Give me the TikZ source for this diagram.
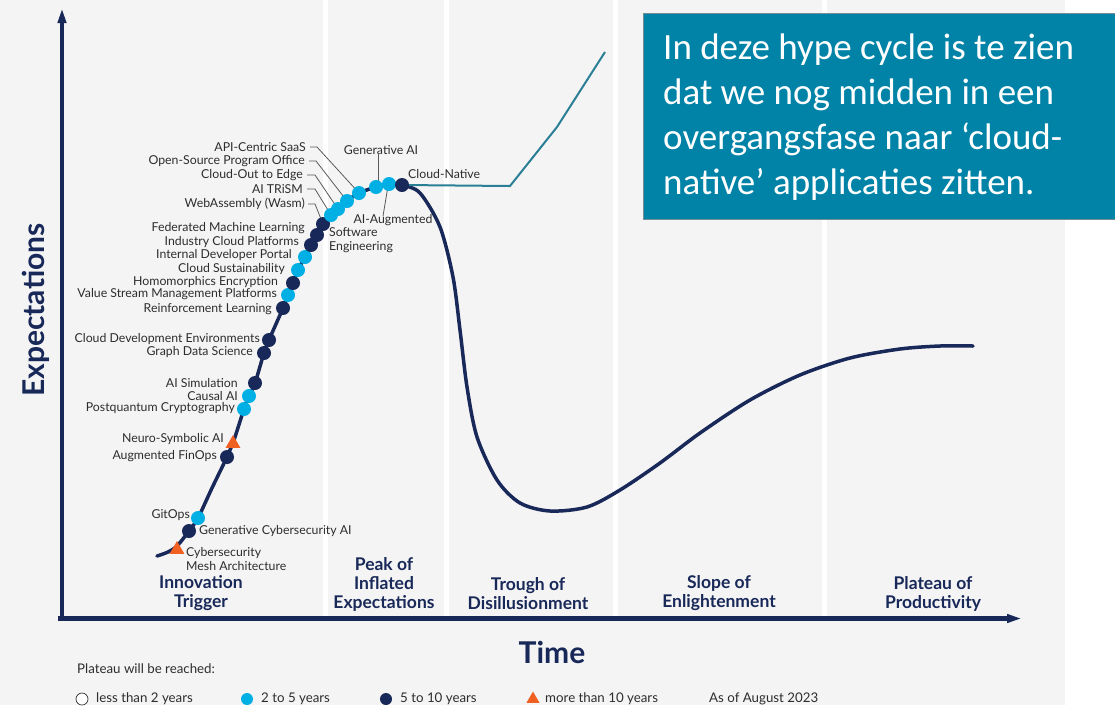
\documentclass[tikz,border=0pt]{standalone}
\usepackage{fontspec}
\setmainfont{Lato}
\newfontfamily\notefont{Carlito}
\usetikzlibrary{arrows.meta,shapes.geometric}
\definecolor{navy}{RGB}{24,40,88}
\definecolor{sky}{RGB}{0,176,228}
\definecolor{flame}{RGB}{240,96,32}
\definecolor{panel}{RGB}{244,244,244}
\definecolor{notebox}{RGB}{0,131,166}
\definecolor{noteedge}{RGB}{120,140,150}
\definecolor{nativeline}{RGB}{42,126,150}
\definecolor{labelgray}{RGB}{45,45,45}
\definecolor{leadergray}{RGB}{90,90,90}
\begin{document}
\begin{tikzpicture}[x=1pt,y=-1pt,
  lightdot/.style={circle,fill=sky,minimum size=14pt,inner sep=0pt},
  darkdot/.style={circle,fill=navy,minimum size=14pt,inner sep=0pt},
  tridot/.style={regular polygon,regular polygon sides=3,fill=flame,minimum size=17pt,inner sep=0pt},
  lab/.style={font=\fontsize{12.3}{14}\selectfont,text=labelgray,inner sep=0pt},
  leader/.style={draw=leadergray,line width=0.8pt},
  phase/.style={font=\bfseries\fontsize{17.5}{19}\selectfont,text=navy,align=center,inner sep=0pt},
  axisline/.style={draw=navy,line width=4.5pt},
  legendtxt/.style={font=\fontsize{13.3}{15}\selectfont,text=labelgray,inner sep=0pt,anchor=west}]

\useasboundingbox (0,0) rectangle (1115,705);

% background panels and phase separators
\fill[white] (0,0) rectangle (1115,705);
\fill[panel] (0,0) rectangle (1065,705);
\foreach \sx in {323,444,613,822}
  \fill[white] (\sx,0) rectangle (\sx+5,616);

% axes
\coordinate (yfoot) at (62,621);
\coordinate (ytop) at (62,8);
\coordinate (xfoot) at (58,618.5);
\coordinate (xtip) at (1022,618.5);
\draw[axisline,-{Triangle[length=15pt,width=8pt]}] (yfoot) -- (ytop);
\draw[axisline,-{Triangle[length=15pt,width=8pt]}] (xfoot) -- (xtip);

\node[font=\bfseries\fontsize{30}{34}\selectfont,text=navy,rotate=90] (ylab) at (36,310) {Expectations};
\node[font=\bfseries\fontsize{30}{34}\selectfont,text=navy] (xlab) at (552,652) {Time};

% hype curve
\draw[navy,line width=3.5pt,line cap=round] plot[smooth,tension=0.5] coordinates {
 (157,556) (168,552) (177,546) (189,531) (198,518) (212,488) (227,457) (233,443)
 (244,409) (249,396) (255,383) (264,353) (269,340) (276,324) (283,308) (288,295)
 (293,283) (298,270) (305,257) (311,245) (317,235) (323,224) (331,215) (338,209)
 (347,201) (359,193) (376,187) (389,184) (402,185) (420,193) (440,227) (453,277)
 (460,330) (467,387) (477,437) (497,480) (520,503) (550,511) (587,507) (620,490)
 (660,463) (700,433) (750,400) (800,375) (850,358) (900,349) (940,346) (973,346)};

% cloud-native trend line
\coordinate (bend1) at (510,186);
\coordinate (bend2) at (557,127);
\coordinate (trendend) at (605,52);
\draw[nativeline,line width=2pt] (402,185) -- (bend1) -- (bend2) -- (trendend);

% technology labels
\node[lab,anchor=east] (lsaas) at (306,147) {API-Centric SaaS};
\node[lab,anchor=east] (lospo) at (305,161) {Open-Source Program Office};
\node[lab,anchor=east] (ledge) at (303,175) {Cloud-Out to Edge};
\node[lab,anchor=east] (ltrism) at (303,189) {AI TRiSM};
\node[lab,anchor=east] (lwasm) at (305,204) {WebAssembly (Wasm)};
\node[lab,anchor=east] (lfml) at (305,228) {Federated Machine Learning};
\node[lab,anchor=east] (licp) at (299,242) {Industry Cloud Platforms};
\node[lab,anchor=east] (lidp) at (292,255) {Internal Developer Portal};
\node[lab,anchor=east] (lcs) at (285,269) {Cloud Sustainability};
\node[lab,anchor=east] (lhe) at (278,282) {Homomorphics Encryption};
\node[lab,anchor=east] (lvsm) at (277,294) {Value Stream Management Platforms};
\node[lab,anchor=east] (lrl) at (272,309) {Reinforcement Learning};
\node[lab,anchor=east] (lcde) at (260,339) {Cloud Development Environments};
\node[lab,anchor=east] (lgds) at (253,352) {Graph Data Science};
\node[lab,anchor=east] (laisim) at (238,383) {AI Simulation};
\node[lab,anchor=east] (lcausal) at (238,396) {Causal AI};
\node[lab,anchor=east] (lpqc) at (235,408) {Postquantum Cryptography};
\node[lab,anchor=east] (lnsai) at (224,439) {Neuro-Symbolic AI};
\node[lab,anchor=east] (lfinops) at (217,456) {Augmented FinOps};
\node[lab,anchor=east] (lgitops) at (190,515) {GitOps};
\node[lab,anchor=west] (lgca) at (199,531) {Generative Cybersecurity AI};
\node[lab,anchor=west,align=left] (lcsma) at (186,559) {Cybersecurity\\Mesh Architecture};
\node[lab] (lgenai) at (381,150) {Generative AI};
\node[lab] (laase) at (393,220) {AI-Augmented};
\node[lab,anchor=west,align=left] (lsweng) at (329,240) {Software\\Engineering};
\node[lab,anchor=west] (lcn) at (408,174) {Cloud-Native};

% technology markers on the rising slope
\node[tridot] (csma) at (177,549.5) {};
\node[darkdot] (gca) at (189,531) {};
\node[lightdot] (gitops) at (198,518) {};
\node[darkdot] (finops) at (227,457) {};
\node[tridot] (nsai) at (233,443.5) {};
\node[lightdot] (pqc) at (244,409) {};
\node[lightdot] (causal) at (249,396) {};
\node[darkdot] (aisim) at (255,383) {};
\node[darkdot] (gds) at (264,353) {};
\node[darkdot] (cde) at (269,340) {};
\node[darkdot] (rl) at (283,308) {};
\node[lightdot] (vsm) at (288,295) {};
\node[darkdot] (he) at (293,283) {};
\node[lightdot] (cs) at (298,270) {};
\node[lightdot] (idp) at (305,257) {};
\node[darkdot] (icp) at (311,245) {};
\node[darkdot] (fml) at (317,235) {};

% markers near the peak, with leader lines drawn first
\coordinate (pwasm) at (323,224);
\coordinate (ptrism) at (331,215);
\coordinate (pedge) at (338,209);
\coordinate (pospo) at (347,201);
\coordinate (psaas) at (359,193);
\coordinate (pgenai) at (378,186);
\coordinate (paase) at (388,186);
\draw[leader] ([xshift=4pt]lsaas.east) -- ++(7,0) -- (psaas);
\draw[leader] ([xshift=4pt]lospo.east) -- ++(7,0) -- (pospo);
\draw[leader] ([xshift=4pt]ledge.east) -- ++(8,0) -- (pedge);
\draw[leader] ([xshift=4pt]ltrism.east) -- ++(8,0) -- (ptrism);
\draw[leader] ([xshift=3pt]lwasm.east) -- ++(7,0) -- (pwasm);
\draw[leader] ([xshift=-3pt,yshift=2pt]lgenai.south) -- (pgenai);
\draw[leader] ([xshift=-10pt,yshift=-2pt]laase.north) -- (paase);

\node[darkdot] (wasm) at (pwasm) {};
\node[lightdot] (trism) at (ptrism) {};
\node[lightdot] (edge) at (pedge) {};
\node[lightdot] (ospo) at (pospo) {};
\node[lightdot] (saas) at (psaas) {};
\node[lightdot] (genai) at (376,187) {};
\node[lightdot] (aase) at (389,184) {};
\node[darkdot] (cn) at (402,185) {};

% phase names
\node[phase] (ph1) at (201,593.5) {Innovation\\Trigger};
\node[phase] (ph2) at (384,584) {Peak of\\Inflated\\Expectations};
\node[phase] (ph3) at (528,593.5) {Trough of\\Disillusionment};
\node[phase] (ph4) at (719,593.5) {Slope of\\Enlightenment};
\node[phase] (ph5) at (933,593.5) {Plateau of\\Productivity};

% legend
\node[legendtxt] (lgtitle) at (77,669) {Plateau will be reached:};
\node[circle,draw=labelgray,fill=white,line width=0.7pt,minimum size=12pt,inner sep=0pt] (lg1) at (82,699) {};
\node[legendtxt] (lg1t) at (96,699) {less than 2 years};
\node[circle,fill=sky,minimum size=12pt,inner sep=0pt] (lg2) at (247,699) {};
\node[legendtxt] (lg2t) at (261,699) {2 to 5 years};
\node[circle,fill=navy,minimum size=12pt,inner sep=0pt] (lg3) at (386,699) {};
\node[legendtxt] (lg3t) at (400,699) {5 to 10 years};
\node[regular polygon,regular polygon sides=3,fill=flame,minimum size=15pt,inner sep=0pt] (lg4) at (533,699) {};
\node[legendtxt] (lg4t) at (545,699) {more than 10 years};
\node[legendtxt] (asof) at (709,699) {As of August 2023};

% annotation box
\fill[notebox] (643,13) rectangle (1116,219);
\draw[noteedge,line width=1pt] (1116,13) -- (643,13) -- (643,219) -- (1116,219);
\node[anchor=north west,inner sep=0pt,align=left,text=white,
      font=\notefont\fontsize{37}{45}\selectfont] (note) at (663,34)
  {In deze hype cycle is te zien\\dat we nog midden in een\\overgangsfase naar ‘cloud-\\native’ applicaties zitten.};
\end{tikzpicture}
\end{document}
